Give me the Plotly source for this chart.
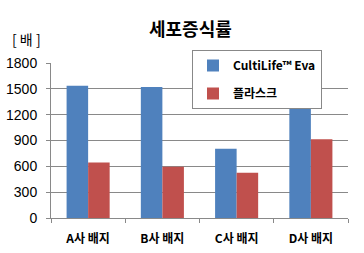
import plotly.graph_objects as go

categories = ["A사 배지", "B사 배지", "C사 배지", "D사 배지"]
series_names = ["CultiLife™ Eva", "플라스크"]
cultilife = [1535, 1522, 805, 1278]
flask = [645, 595, 525, 915]
y_ticks = [0, 300, 600, 900, 1200, 1500, 1800]

colors = ["#4F81BD", "#C0504D"]

fig = go.Figure()
for i, (name, vals, c) in enumerate(zip(series_names, [cultilife, flask], colors)):
    fig.add_trace(go.Bar(x=categories, y=vals, name=name, legendgroup=f"g{i}",
                         marker=dict(color=c, line=dict(width=0))))

pw = 364 - 51 - 16
ph = 253 - 63 - 35

fig.update_layout(
    width=364, height=253,
    margin=dict(l=51, r=16, t=63, b=35),
    paper_bgcolor="white", plot_bgcolor="white",
    barmode="group", bargap=0.42, bargroupgap=0,
    font=dict(family="Noto Sans CJK KR", color="#000"),
    showlegend=True,
    legend=dict(x=(192 - 51) / pw, y=(218 - 50) / ph, xanchor="left", yanchor="top",
                bgcolor="white", bordercolor="#888", borderwidth=1,
                font=dict(size=12, family="Noto Sans CJK KR", weight="bold"),
                tracegroupgap=9, itemwidth=30, entrywidth=112),
    annotations=[
        dict(text="<b>세포증식률</b>", x=(190 - 51) / pw, y=(218 - 28) / ph, xref="paper", yref="paper",
             showarrow=False, xanchor="center", yanchor="middle",
             font=dict(size=18, family="Noto Sans CJK KR")),
        dict(text="[ 배 ]", x=(27 - 51) / pw, y=(218 - 39) / ph, xref="paper", yref="paper",
             showarrow=False, xanchor="center", yanchor="middle",
             font=dict(size=14, family="Noto Sans CJK KR")),
    ],
)

fig.update_yaxes(range=[0, 1800], tickvals=y_ticks, showgrid=True, gridcolor="#898989", gridwidth=1,
                 showline=True, linecolor="#898989", linewidth=1, ticks="outside", ticklen=4,
                 tickcolor="#898989", zeroline=False, ticklabelstandoff=6, automargin=False,
                 tickfont=dict(size=14, family="Liberation Sans", color="#000"))
fig.update_xaxes(showline=True, linecolor="#898989", linewidth=1, ticks="outside", ticklen=4,
                 tickcolor="#898989", tickson="boundaries", ticklabelstandoff=10, automargin=False,
                 tickfont=dict(size=12, family="Noto Sans CJK KR", color="#000", weight="bold"))

fig.write_html("out.html")
